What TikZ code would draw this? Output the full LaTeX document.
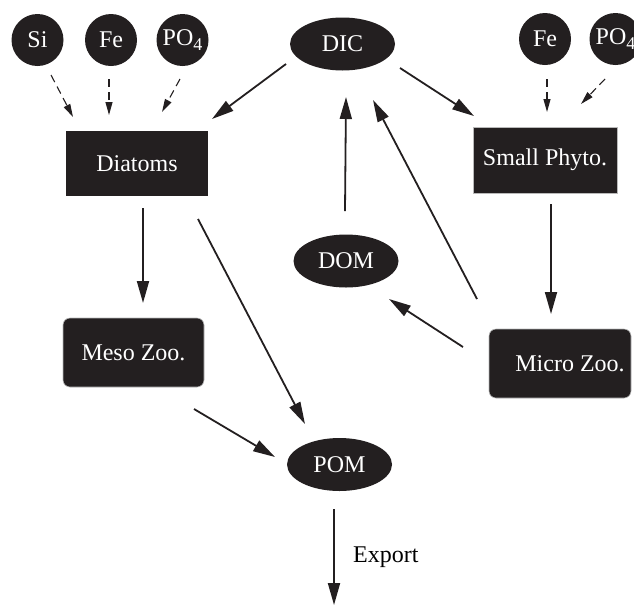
\documentclass[tikz,border=0pt]{standalone}
\usepackage{fontspec}
\setmainfont{Liberation Serif}
\usetikzlibrary{arrows.meta,shapes.geometric}
\definecolor{ink}{RGB}{35,31,32}
\newcommand{\POfour}{PO\raisebox{-5pt}{\fontsize{18}{18}\selectfont 4}}
\begin{document}
\begin{tikzpicture}[x=1pt,y=-1pt,font=\fontsize{24}{28}\selectfont,
  nut/.style={circle,fill=ink,text=white,minimum size=52pt,inner sep=0pt},
  pool/.style={ellipse,fill=ink,text=white,minimum width=105pt,minimum height=53pt,inner sep=0pt},
  sqbox/.style={rectangle,fill=ink,text=white,inner sep=0pt},
  rbox/.style={rectangle,rounded corners=7pt,fill=ink,draw=gray!55,line width=0.6pt,text=white,inner sep=0pt},
  flow/.style={draw=ink,line width=1.8pt,-{Triangle[length=22pt,width=12pt]}},
  supply/.style={draw=ink,line width=1.1pt,dash pattern=on 8pt off 5pt,-{Triangle[length=13pt,width=7pt]}}]
\useasboundingbox (0,0) rectangle (634,606);
% nutrients
\node[nut] (si) at (37.5,40) {Si};
\node[nut] (fea) at (111,40) {Fe};
\node[nut] (poa) at (182.5,40) {\POfour};
\node[nut] (feb) at (545,39) {Fe};
\node[nut] (pob) at (615.5,39) {\POfour};
% pools
\node[pool] (dic) at (342.5,44) {DIC};
\node[pool] (dom) at (346,261) {DOM};
\node[pool] (pom) at (339.5,464.5) {POM};
% boxes
\node[sqbox,minimum width=142pt,minimum height=65pt] (diat) at (137,163.5) {Diatoms};
\node[sqbox,draw=gray!55,line width=0.6pt,minimum width=144pt,minimum height=66pt] (phyto) at (545,160) {Small Phyto.};
\node[rbox,minimum width=141pt,minimum height=69pt] (meso) at (133.5,352.5) {Meso Zoo.};
\node[rbox,minimum width=142pt,minimum height=69pt] (micro) at (560,363.5) {\hspace*{20pt}Micro Zoo.};
% export
\coordinate (sink) at (334,605);
\node[anchor=west,inner sep=0pt] (exportlbl) at (353,557) {Export};
% dashed supply arrows
\draw[supply] ([shift={(13.5,35)}]si.center) -- ([shift={(-64,-46.5)}]diat.center);
\draw[supply] ([shift={(-2,39)}]fea.center) -- ([shift={(-28,-48.5)}]diat.center);
\draw[supply] ([shift={(-2.5,39)}]poa.center) -- ([shift={(25,-51.5)}]diat.center);
\draw[supply] ([shift={(2,40)}]feb.center) -- ([shift={(2,-48)}]phyto.center);
\draw[supply] ([shift={(-10.5,40)}]pob.center) -- ([shift={(36,-56)}]phyto.center);
% flows
\draw[flow] ([shift={(-56.5,20)}]dic.center) -- ([shift={(75,-44.5)}]diat.center);
\draw[flow] ([shift={(57.5,24)}]dic.center) -- ([shift={(-71,-44)}]phyto.center);
\draw[flow] ([shift={(6,44.5)}]diat.center) -- ([shift={(9.5,-49.5)}]meso.center);
\draw[flow] ([shift={(61,55.5)}]diat.center) -- ([shift={(-34.5,-40.5)}]pom.center);
\draw[flow] ([shift={(60.5,56.5)}]meso.center) -- ([shift={(-64.5,-7.5)}]pom.center);
\draw[flow] ([shift={(6,44)}]phyto.center) -- ([shift={(-9,-49.5)}]micro.center);
\draw[flow] ([shift={(-97,-16.5)}]micro.center) -- ([shift={(43,38)}]dom.center);
\draw[flow] ([shift={(-83,-64.5)}]micro.center) -- ([shift={(30.5,56)}]dic.center);
\draw[flow] ([shift={(-1,-50)}]dom.center) -- ([shift={(3.5,53)}]dic.center);
\draw[flow] ([shift={(-5.5,44.5)}]pom.center) -- (sink);
\end{tikzpicture}
\end{document}
